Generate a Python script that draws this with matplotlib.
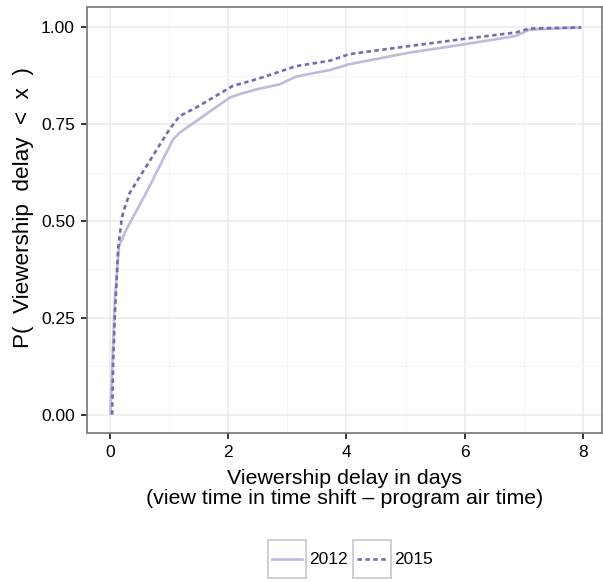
import matplotlib
matplotlib.use("Agg")
import matplotlib.pyplot as plt
from matplotlib.ticker import MultipleLocator

plt.rcParams['font.family'] = ['Liberation Sans', 'DejaVu Sans']

days_2012 = [0.01, 0.085, 0.157, 0.28, 0.647, 1.07, 1.18, 2.03, 2.2, 2.48, 2.87, 3.15,
             3.72, 4.05, 5.07, 6.02, 6.87, 7.09, 7.97]
cdf_2012 = [0.0, 0.297, 0.435, 0.478, 0.582, 0.711, 0.728, 0.819, 0.828, 0.840, 0.853,
            0.873, 0.890, 0.905, 0.935, 0.957, 0.978, 0.994, 1.0]

days_2015 = [0.04, 0.056, 0.085, 0.113, 0.14, 0.2, 0.225, 0.338, 0.62, 1.01, 1.18, 1.46,
             2.08, 2.48, 3.15, 3.72, 4.05, 5.07, 6.02, 6.87, 7.09, 7.97]
cdf_2015 = [0.0, 0.125, 0.254, 0.34, 0.427, 0.504, 0.522, 0.573, 0.642, 0.737, 0.771,
            0.793, 0.849, 0.866, 0.9, 0.914, 0.931, 0.952, 0.971, 0.987, 0.997, 1.0]

years = ['2012', '2015']
col_2012 = '#bcbddc'
col_2015 = '#756bb1'

fig = plt.figure(figsize=(6.03, 5.82), dpi=100)
ax = fig.add_axes([0.1438, 0.256, 0.8545, 0.7315])

ax.plot(days_2012, cdf_2012, color=col_2012, lw=1.9, solid_capstyle='butt')
ax.plot(days_2015, cdf_2015, color=col_2015, lw=1.9, dashes=(1.7, 1.3))

ax.set_xlim(-0.39, 8.32)
ax.set_ylim(-0.0475, 1.052)
ax.xaxis.set_major_locator(MultipleLocator(2))
ax.xaxis.set_minor_locator(MultipleLocator(1))
ax.yaxis.set_major_locator(MultipleLocator(0.25))
ax.yaxis.set_minor_locator(MultipleLocator(0.125))
ax.yaxis.set_major_formatter(lambda v, p: f'{v:.2f}')

ax.grid(which='major', color='#ebebeb', lw=1.1)
ax.grid(which='minor', color='#f5f5f5', lw=0.8)
ax.set_axisbelow(True)
ax.tick_params(which='minor', length=0)
ax.tick_params(which='major', length=4.3, width=1.1, color='black',
               labelsize=12.5, labelcolor='black')
ax.tick_params(axis='y', pad=4.3)
ax.tick_params(axis='x', pad=4.5)
for s in ax.spines.values():
    s.set_color('#7f7f7f')
    s.set_linewidth(1.3)

fig.text(344.5 / 603, 1 - 488.5 / 582,
         'Viewership delay in days\n(view time in time shift \u2013 program air time)',
         ha='center', va='center', fontsize=15.4, linespacing=1.0)
fig.text(24 / 603, 1 - 208 / 582, 'P(  Viewership  delay  <  x  )',
         rotation=90, ha='center', va='center', fontsize=16.2)

# legend: boxed keys below the panel
key_left = [268 / 603, 353 / 603]
styles = [dict(color=col_2012, lw=1.9), dict(color=col_2015, lw=1.9, dashes=(1.7, 1.3))]
for left, year, st in zip(key_left, years, styles):
    kax = fig.add_axes([left, 4 / 582, 38 / 603, 38 / 582])
    kax.plot([0.1, 0.9], [0.5, 0.5], **st)
    kax.set_xlim(0, 1)
    kax.set_ylim(0, 1)
    kax.set_xticks([])
    kax.set_yticks([])
    for s in kax.spines.values():
        s.set_color('#cccccc')
        s.set_linewidth(1.3)
    fig.text(left + 41 / 603, 23 / 582, year, ha='left', va='center', fontsize=12.5)

fig.savefig('out.png', dpi=100)
